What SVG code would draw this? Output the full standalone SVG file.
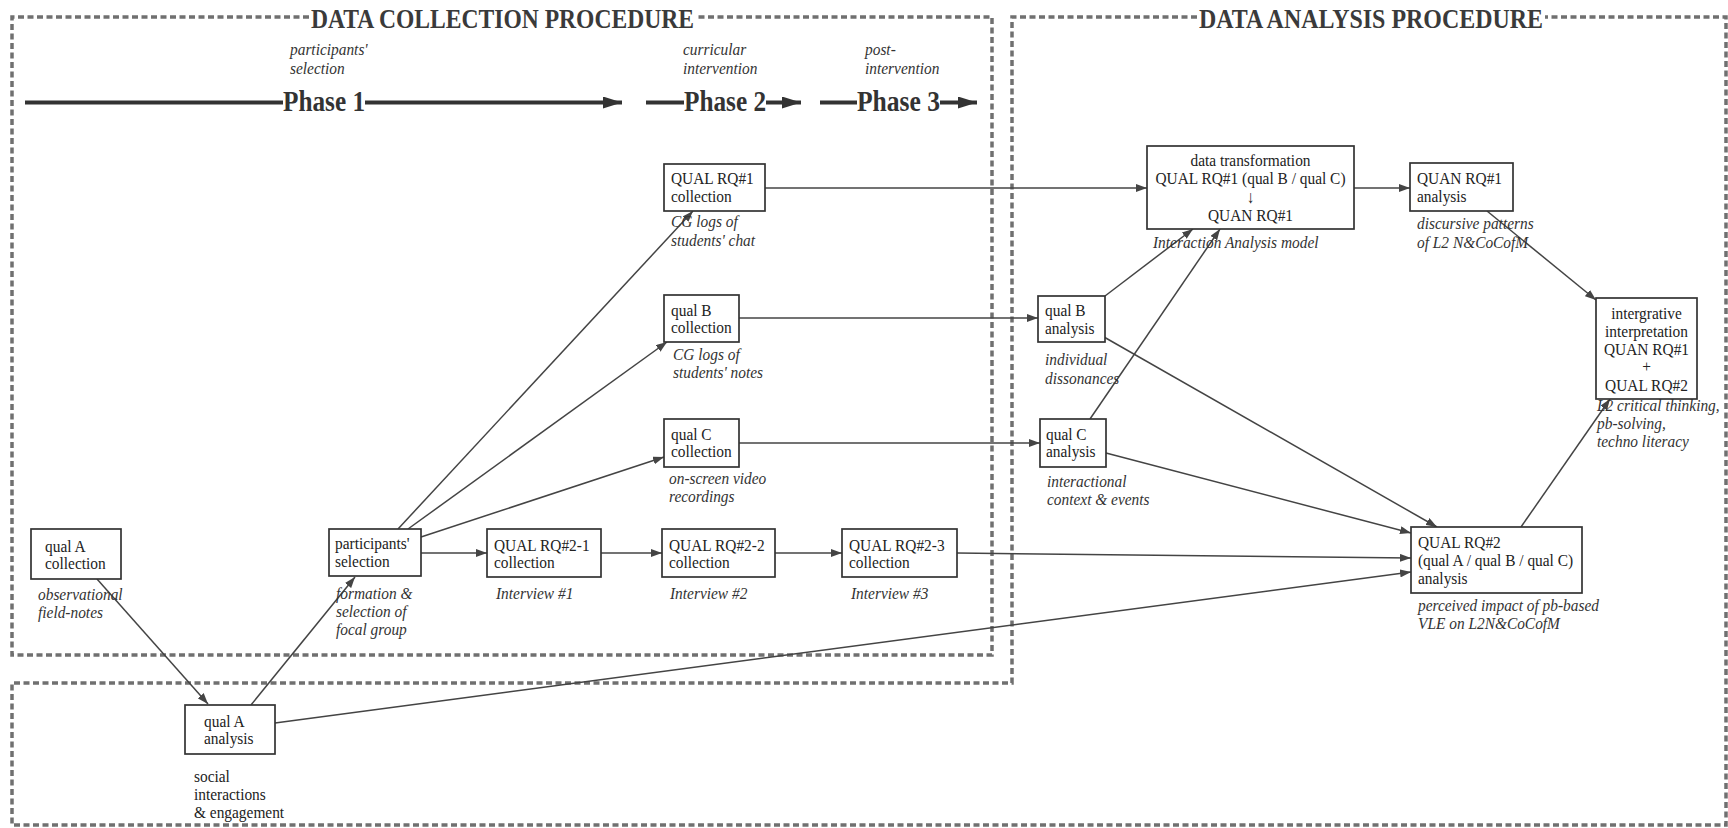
<svg xmlns="http://www.w3.org/2000/svg" width="1728" height="828" viewBox="0 0 1728 828">
<style>
.bg{fill:#fff}
.box{fill:#fff;stroke:#333;stroke-width:1.7}
.t{font-family:"Liberation Serif","Times New Roman",serif;font-size:17.5px;fill:#222}
.i{font-style:italic;fill:#333}
.ttl{font-family:"Liberation Serif","Times New Roman",serif;font-size:26.5px;font-weight:bold;fill:#3a3a3a}
.ph{font-family:"Liberation Serif","Times New Roman",serif;font-size:28.5px;font-weight:bold;fill:#333}
.dash{fill:none;stroke:#707070;stroke-width:3.5;stroke-dasharray:6 3.5}
.c{fill:none;stroke:#444;stroke-width:1.5;marker-end:url(#ah)}
.pl{fill:none;stroke:#333;stroke-width:4}
.pa{fill:none;stroke:#333;stroke-width:4;marker-end:url(#pah)}
</style>
<defs>
<marker id="ah" markerUnits="userSpaceOnUse" markerWidth="11" markerHeight="8" refX="11" refY="4" orient="auto"><path d="M0,0 L11,4 L0,8 z" fill="#444"/></marker>
<marker id="pah" markerUnits="userSpaceOnUse" markerWidth="19" markerHeight="12" refX="19" refY="6" orient="auto"><path d="M0,0 L19,6 L0,12 z" fill="#333"/></marker>
</defs>
<rect class="bg" x="0" y="0" width="1728" height="828"/>

<g id="frames">
<path class="dash" d="M309,17 H12 V655 H992 V17 H696"/>
<path class="dash" d="M1197,17 H1012 V683 H12 V825 H1726 V17 H1545"/>
<text class="ttl" x="311" y="28" textLength="383" lengthAdjust="spacingAndGlyphs">DATA COLLECTION PROCEDURE</text>
<text class="ttl" x="1199" y="28" textLength="344" lengthAdjust="spacingAndGlyphs">DATA ANALYSIS PROCEDURE</text>
</g>

<g id="phases">
<path class="pl" d="M25,102.5 H283"/>
<text class="ph" x="283" y="111" textLength="82" lengthAdjust="spacingAndGlyphs">Phase 1</text>
<path class="pa" d="M365,102.5 H622"/>
<path class="pl" d="M646,102.5 H684"/>
<text class="ph" x="684" y="111" textLength="82" lengthAdjust="spacingAndGlyphs">Phase 2</text>
<path class="pa" d="M766,102.5 H801"/>
<path class="pl" d="M820,102.5 H857"/>
<text class="ph" x="857" y="111" textLength="83" lengthAdjust="spacingAndGlyphs">Phase 3</text>
<path class="pa" d="M940,102.5 H977"/>
<text class="t i" transform="translate(290,55) scale(.88,1)">participants'<tspan x="0" dy="19">selection</tspan></text>
<text class="t i" transform="translate(683,55) scale(.88,1)">curricular<tspan x="0" dy="19">intervention</tspan></text>
<text class="t i" transform="translate(865,55) scale(.88,1)">post-<tspan x="0" dy="19">intervention</tspan></text>
</g>

<g id="connectors">
<path class="c" d="M97,579 L208,704"/>
<path class="c" d="M251,705 L355,577"/>
<path class="c" d="M275,723 L1411,572"/>
<path class="c" d="M398,529 L693,211"/>
<path class="c" d="M408,529 L667,342"/>
<path class="c" d="M421,537 L664,457"/>
<path class="c" d="M421,553 H487"/>
<path class="c" d="M601,553 H662"/>
<path class="c" d="M775,553 H842"/>
<path class="c" d="M957,553 L1411,558"/>
<path class="c" d="M765,188 H1147"/>
<path class="c" d="M739,318 H1038"/>
<path class="c" d="M739,443 H1040"/>
<path class="c" d="M1354,188 H1410"/>
<path class="c" d="M1487,211 L1596,300"/>
<path class="c" d="M1105,296 L1193,229"/>
<path class="c" d="M1090,419 L1220,229"/>
<path class="c" d="M1104,337 L1437,527"/>
<path class="c" d="M1106,453 L1411,533"/>
<path class="c" d="M1521,527 L1610,399"/>
</g>

<g id="qualA-collection">
<rect class="box" x="31" y="529" width="90" height="50"/>
<text class="t" transform="translate(45,552) scale(.88,1)">qual A<tspan x="0" dy="17">collection</tspan></text>
<text class="t i" transform="translate(38,600) scale(.88,1)">observational<tspan x="0" dy="18">field-notes</tspan></text>
</g>

<g id="participants-selection">
<rect class="box" x="329" y="529" width="92" height="47"/>
<text class="t" transform="translate(335,549) scale(.88,1)">participants'<tspan x="0" dy="18">selection</tspan></text>
<text class="t i" transform="translate(336,599) scale(.88,1)">formation &amp;<tspan x="0" dy="18">selection of</tspan><tspan x="0" dy="18">focal group</tspan></text>
</g>

<g id="qualA-analysis">
<rect class="box" x="185" y="705" width="90" height="49"/>
<text class="t" transform="translate(204,727) scale(.88,1)">qual A<tspan x="0" dy="17">analysis</tspan></text>
<text class="t" transform="translate(194,782) scale(.88,1)">social<tspan x="0" dy="18">interactions</tspan><tspan x="0" dy="18">&amp; engagement</tspan></text>
</g>

<g id="rq2-1">
<rect class="box" x="487" y="529" width="114" height="48"/>
<text class="t" transform="translate(494,551) scale(.88,1)">QUAL RQ#2-1<tspan x="0" dy="17">collection</tspan></text>
<text class="t i" transform="translate(496,599) scale(.88,1)">Interview #1</text>
</g>

<g id="rq2-2">
<rect class="box" x="662" y="529" width="113" height="48"/>
<text class="t" transform="translate(669,551) scale(.88,1)">QUAL RQ#2-2<tspan x="0" dy="17">collection</tspan></text>
<text class="t i" transform="translate(670,599) scale(.88,1)">Interview #2</text>
</g>

<g id="rq2-3">
<rect class="box" x="842" y="529" width="115" height="48"/>
<text class="t" transform="translate(849,551) scale(.88,1)">QUAL RQ#2-3<tspan x="0" dy="17">collection</tspan></text>
<text class="t i" transform="translate(851,599) scale(.88,1)">Interview #3</text>
</g>

<g id="qualC-collection">
<rect class="box" x="664" y="419" width="75" height="48"/>
<text class="t" transform="translate(671,440) scale(.88,1)">qual C<tspan x="0" dy="17">collection</tspan></text>
<text class="t i" transform="translate(669,484) scale(.88,1)">on-screen video<tspan x="0" dy="18">recordings</tspan></text>
</g>

<g id="qualB-collection">
<rect class="box" x="664" y="295" width="75" height="47"/>
<text class="t" transform="translate(671,316) scale(.88,1)">qual B<tspan x="0" dy="17">collection</tspan></text>
<text class="t i" transform="translate(673,360) scale(.88,1)">CG logs of<tspan x="0" dy="18">students' notes</tspan></text>
</g>

<g id="rq1-collection">
<rect class="box" x="664" y="164" width="101" height="47"/>
<text class="t" transform="translate(671,184) scale(.88,1)">QUAL RQ#1<tspan x="0" dy="18">collection</tspan></text>
<text class="t i" transform="translate(671,227) scale(.88,1)">CG logs of<tspan x="0" dy="19">students' chat</tspan></text>
</g>

<g id="data-transformation">
<rect class="box" x="1147" y="146" width="207" height="83"/>
<text class="t" text-anchor="middle" transform="translate(1250.5,166) scale(.88,1)">data transformation<tspan x="0" dy="18">QUAL RQ#1 (qual B / qual C)</tspan><tspan x="0" dy="19">↓</tspan><tspan x="0" dy="18">QUAN RQ#1</tspan></text>
<text class="t i" transform="translate(1153,248) scale(.88,1)">Interaction Analysis model</text>
</g>

<g id="quan-rq1-analysis">
<rect class="box" x="1410" y="163" width="103" height="48"/>
<text class="t" transform="translate(1417,184) scale(.88,1)">QUAN RQ#1<tspan x="0" dy="18">analysis</tspan></text>
<text class="t i" transform="translate(1417,229) scale(.88,1)">discursive patterns<tspan x="0" dy="19">of L2 N&amp;CoCofM</tspan></text>
</g>

<g id="integrative">
<rect class="box" x="1596" y="298" width="101" height="101"/>
<text class="t" text-anchor="middle" transform="translate(1646.5,319) scale(.88,1)">intergrative<tspan x="0" dy="18">interpretation</tspan><tspan x="0" dy="18">QUAN RQ#1</tspan><tspan x="0" dy="17">+</tspan><tspan x="0" dy="19">QUAL RQ#2</tspan></text>
<text class="t i" transform="translate(1597,411) scale(.88,1)">L2 critical thinking,<tspan x="0" dy="18">pb-solving,</tspan><tspan x="0" dy="18">techno literacy</tspan></text>
</g>

<g id="qualB-analysis">
<rect class="box" x="1038" y="296" width="67" height="46"/>
<text class="t" transform="translate(1045,316) scale(.88,1)">qual B<tspan x="0" dy="18">analysis</tspan></text>
<text class="t i" transform="translate(1045,365) scale(.88,1)">individual<tspan x="0" dy="19">dissonances</tspan></text>
</g>

<g id="qualC-analysis">
<rect class="box" x="1040" y="419" width="66" height="48"/>
<text class="t" transform="translate(1046,440) scale(.88,1)">qual C<tspan x="0" dy="17">analysis</tspan></text>
<text class="t i" transform="translate(1047,487) scale(.88,1)">interactional<tspan x="0" dy="18">context &amp; events</tspan></text>
</g>

<g id="qual-rq2-analysis">
<rect class="box" x="1411" y="527" width="171" height="66"/>
<text class="t" transform="translate(1418,548) scale(.88,1)">QUAL RQ#2<tspan x="0" dy="18">(qual A / qual B / qual C)</tspan><tspan x="0" dy="18">analysis</tspan></text>
<text class="t i" transform="translate(1418,611) scale(.88,1)">perceived impact of pb-based<tspan x="0" dy="18">VLE on L2N&amp;CoCofM</tspan></text>
</g>
</svg>
